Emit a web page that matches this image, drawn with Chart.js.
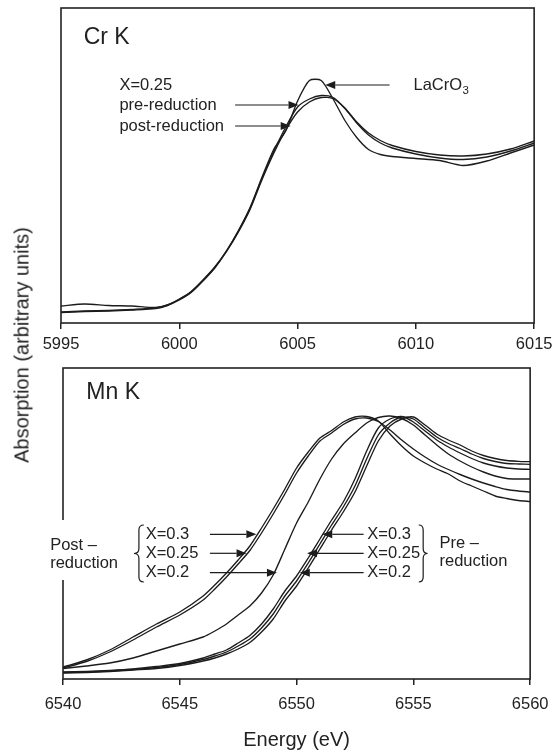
<!DOCTYPE html>
<html>
<head>
<meta charset="utf-8">
<script src="https://cdn.jsdelivr.net/npm/chart.js@4.4.1/dist/chart.umd.min.js"></script>
<style>
  body { margin: 0; background: #fff; }
  #wrap { position: relative; width: 558px; height: 752px; overflow: hidden; font-family: "Liberation Sans", Arial, sans-serif; }
  canvas { position: absolute; left: 0; }
  #crChart { top: 0; }
  #mnChart { top: 365px; }
  #yLabel { position: absolute; left: 22px; top: 345px; transform: translate(-50%, -50%) rotate(-90deg); font-size: 20px; color: #222; white-space: nowrap; }
</style>
</head>
<body>
<div id="wrap">
  <canvas id="crChart" width="558" height="365"></canvas>
  <canvas id="mnChart" width="558" height="387"></canvas>
  <div id="yLabel">Absorption (arbitrary units)</div>
</div>
<script>
// Cr K edge (top panel)
const crEnergy = [5995, 5996, 5997, 5998, 5999, 5999.5, 6000, 6000.5, 6001, 6001.5, 6002, 6002.5, 6003, 6003.5, 6004, 6004.5,
  6005, 6005.5, 6006, 6006.5, 6007, 6007.5, 6008, 6008.5, 6009, 6010, 6011, 6012, 6013, 6014, 6015];
const crLaCrO3 = [0.17, 0.19, 0.175, 0.17, 0.155, 0.18, 0.24, 0.315, 0.43, 0.56, 0.725, 0.925, 1.16, 1.46, 1.74, 1.92,
  2.22, 2.425, 2.425, 2.24, 2.025, 1.855, 1.735, 1.685, 1.665, 1.645, 1.625, 1.575, 1.62, 1.70, 1.78];
const crPre = [0.11, 0.12, 0.125, 0.135, 0.15, 0.18, 0.235, 0.31, 0.425, 0.555, 0.72, 0.92, 1.15, 1.45, 1.72, 1.96,
  2.16, 2.24, 2.275, 2.255, 2.15, 2.01, 1.90, 1.825, 1.775, 1.715, 1.68, 1.67, 1.69, 1.74, 1.82];
const crPost = [0.105, 0.115, 0.12, 0.13, 0.145, 0.175, 0.23, 0.305, 0.42, 0.55, 0.715, 0.91, 1.14, 1.435, 1.70, 1.93,
  2.11, 2.21, 2.255, 2.245, 2.145, 2.00, 1.88, 1.80, 1.75, 1.69, 1.65, 1.635, 1.66, 1.72, 1.80];
const crTicks = [5995, 6000, 6005, 6010, 6015];

// Mn K edge (bottom panel)
const mnEnergy = [6540, 6541, 6542, 6543, 6544, 6545, 6546, 6546.5, 6547, 6547.5, 6548, 6548.5, 6549, 6549.5, 6550, 6550.5,
  6551, 6551.5, 6552, 6552.5, 6553, 6553.5, 6554, 6554.5, 6555, 6555.5, 6556, 6556.5, 6557, 6557.5, 6558, 6558.5, 6559, 6559.5, 6560];
const mnPost03 = [0.12, 0.19, 0.29, 0.42, 0.55, 0.67, 0.83, 0.94, 1.06, 1.19, 1.33, 1.51, 1.70, 1.90, 2.11, 2.27,
  2.41, 2.485, 2.57, 2.62, 2.625, 2.58, 2.45, 2.33, 2.23, 2.16, 2.10, 2.05, 1.98, 1.93, 1.88, 1.83, 1.805, 1.785, 1.775];
const mnPost025 = [0.11, 0.175, 0.27, 0.39, 0.52, 0.64, 0.79, 0.90, 1.02, 1.15, 1.285, 1.46, 1.65, 1.85, 2.06, 2.23,
  2.38, 2.46, 2.545, 2.60, 2.61, 2.575, 2.49, 2.39, 2.30, 2.22, 2.15, 2.095, 2.045, 2.00, 1.96, 1.925, 1.895, 1.88, 1.87];
const mnPost02 = [0.105, 0.13, 0.16, 0.21, 0.28, 0.35, 0.42, 0.48, 0.55, 0.64, 0.73, 0.86, 1.04, 1.30, 1.56, 1.77,
  2.00, 2.20, 2.35, 2.46, 2.56, 2.615, 2.63, 2.605, 2.54, 2.44, 2.34, 2.25, 2.18, 2.12, 2.07, 2.03, 2.005, 2.00, 2.00];
const mnPre03 = [0.07, 0.075, 0.085, 0.10, 0.125, 0.155, 0.21, 0.25, 0.29, 0.36, 0.435, 0.55, 0.70, 0.88, 1.03, 1.21,
  1.40, 1.59, 1.77, 2.00, 2.28, 2.51, 2.60, 2.625, 2.57, 2.48, 2.39, 2.32, 2.26, 2.205, 2.16, 2.13, 2.11, 2.10, 2.097];
const mnPre025 = [0.065, 0.07, 0.08, 0.095, 0.115, 0.145, 0.195, 0.23, 0.27, 0.33, 0.40, 0.51, 0.65, 0.83, 0.98, 1.16,
  1.35, 1.54, 1.72, 1.93, 2.20, 2.44, 2.56, 2.62, 2.60, 2.51, 2.42, 2.355, 2.305, 2.25, 2.205, 2.175, 2.155, 2.15, 2.147];
const mnPre02 = [0.06, 0.065, 0.075, 0.09, 0.105, 0.135, 0.18, 0.21, 0.25, 0.30, 0.365, 0.47, 0.60, 0.78, 0.93, 1.11,
  1.30, 1.49, 1.67, 1.87, 2.13, 2.38, 2.53, 2.60, 2.62, 2.54, 2.45, 2.39, 2.34, 2.28, 2.235, 2.205, 2.185, 2.177, 2.173];
const mnTicks = [6540, 6545, 6550, 6555, 6560];

const FONT = '"Liberation Sans", Arial, sans-serif';
const INK = '#1c1c1c';
Chart.defaults.font.family = FONT;
Chart.defaults.color = '#222';

function pts(xs, ys) {
  return xs.map((x, i) => ({ x: x, y: ys[i] }));
}

function line(label, xs, ys) {
  return { label: label, data: pts(xs, ys), borderColor: INK, borderWidth: 1.35, pointRadius: 0, tension: 0.25, fill: false };
}

function arrow(ctx, x0, y0, x1, y1) {
  const dir = Math.sign(x1 - x0), L = 10, H = 4;
  ctx.beginPath();
  ctx.moveTo(x0, y0);
  ctx.lineTo(x1 - dir * L, y1);
  ctx.stroke();
  ctx.beginPath();
  ctx.moveTo(x1, y1);
  ctx.lineTo(x1 - dir * L, y1 - H);
  ctx.lineTo(x1 - dir * L, y1 + H);
  ctx.closePath();
  ctx.fill();
}

function brace(ctx, xt, xb, yt, yb) {
  const xm = (xt + xb) / 2, ym = (yt + yb) / 2, r = 5;
  ctx.beginPath();
  ctx.moveTo(xb, yt);
  ctx.quadraticCurveTo(xm, yt, xm, yt + r);
  ctx.lineTo(xm, ym - r);
  ctx.quadraticCurveTo(xm, ym, xt, ym);
  ctx.quadraticCurveTo(xm, ym, xm, ym + r);
  ctx.lineTo(xm, yb - r);
  ctx.quadraticCurveTo(xm, yb, xb, yb);
  ctx.stroke();
}

const framePlugin = {
  id: 'frame',
  afterDatasetsDraw(chart) {
    const { ctx, chartArea: a } = chart;
    ctx.save();
    ctx.strokeStyle = '#222';
    ctx.lineWidth = 1.6;
    ctx.strokeRect(a.left, a.top, a.right - a.left, a.bottom - a.top);
    ctx.restore();
  }
};

const notesPlugin = {
  id: 'notes',
  afterDraw(chart, args, opts) {
    const ctx = chart.ctx, sx = chart.scales.x, sy = chart.scales.y;
    const px = v => sx.getPixelForValue(v), py = v => sy.getPixelForValue(v);
    ctx.save();
    ctx.fillStyle = '#fff';
    (opts.masks || []).forEach(m => {
      ctx.fillRect(px(m.x0), py(m.y1), px(m.x1) - px(m.x0), py(m.y0) - py(m.y1));
    });
    ctx.fillStyle = '#222';
    ctx.textBaseline = 'middle';
    ctx.textAlign = 'left';
    (opts.texts || []).forEach(t => {
      ctx.font = (t.size || 16.5) + 'px ' + FONT;
      ctx.fillText(t.text, px(t.x), py(t.y));
      if (t.sub) {
        const w = ctx.measureText(t.text).width;
        ctx.font = '11.5px ' + FONT;
        ctx.fillText(t.sub, px(t.x) + w + 0.5, py(t.y) + 6);
      }
    });
    ctx.strokeStyle = INK;
    ctx.fillStyle = INK;
    ctx.lineWidth = 1.2;
    (opts.arrows || []).forEach(a => arrow(ctx, px(a.x0), py(a.y), px(a.x1), py(a.y)));
    (opts.braces || []).forEach(b => brace(ctx, px(b.tip), px(b.back), py(b.top), py(b.bottom)));
    ctx.restore();
  }
};

function makeChart(id, datasets, ticks, yMax, pad, axisH, tickPad, title, notes) {
  return new Chart(document.getElementById(id), {
    type: 'line',
    data: { datasets: datasets },
    plugins: [framePlugin, notesPlugin],
    options: {
      responsive: false,
      animation: false,
      devicePixelRatio: 1,
      layout: { padding: pad },
      plugins: { legend: { display: false }, tooltip: { enabled: false }, notes: notes },
      scales: {
        x: {
          type: 'linear',
          min: ticks[0],
          max: ticks[ticks.length - 1],
          afterBuildTicks: s => { s.ticks = ticks.map(v => ({ value: v })); },
          afterFit: s => { s.height = axisH; },
          ticks: { font: { size: 16.5 }, color: '#222', padding: tickPad, maxRotation: 0, callback: v => String(v) },
          grid: { drawOnChartArea: false, tickLength: 6, color: '#222', lineWidth: 1.5 },
          border: { display: false },
          title: title
        },
        y: { display: false, min: 0, max: yMax }
      }
    }
  });
}

makeChart('crChart',
  [line('LaCrO3', crEnergy, crLaCrO3), line('X=0.25 pre-reduction', crEnergy, crPre), line('X=0.25 post-reduction', crEnergy, crPost)],
  crTicks, 3.15, { left: 61, right: 19, top: 8, bottom: 0 }, 42, 5.5, { display: false },
  {
    texts: [
      { text: 'Cr K', x: 5995.96, y: 2.85, size: 23 },
      { text: 'X=0.25', x: 5997.47, y: 2.375 },
      { text: 'pre-reduction', x: 5997.47, y: 2.18 },
      { text: 'post-reduction', x: 5997.47, y: 1.97 },
      { text: 'LaCrO', sub: '3', x: 6009.9, y: 2.38 }
    ],
    arrows: [
      { x0: 6002.36, x1: 6005.04, y: 2.18 },
      { x0: 6002.36, x1: 6004.71, y: 1.97 },
      { x0: 6008.89, x1: 6006.17, y: 2.38 }
    ]
  });

makeChart('mnChart',
  [line('Post X=0.3', mnEnergy, mnPost03), line('Post X=0.25', mnEnergy, mnPost025), line('Post X=0.2', mnEnergy, mnPost02),
   line('Pre X=0.3', mnEnergy, mnPre03), line('Pre X=0.25', mnEnergy, mnPre025), line('Pre X=0.2', mnEnergy, mnPre02)],
  mnTicks, 3.11, { left: 63, right: 21, top: 3, bottom: 0 }, 73, 9.5,
  { display: true, text: 'Energy (eV)', font: { size: 20 }, color: '#222', padding: { top: 0, bottom: 0 } },
  {
    masks: [{ x0: 6539.3, x1: 6542.6, y0: 0.99, y1: 1.59 }],
    texts: [
      { text: 'Mn K', x: 6541.0, y: 2.86, size: 23 },
      { text: 'Post \u2013', x: 6539.45, y: 1.333 },
      { text: 'reduction', x: 6539.45, y: 1.16 },
      { text: 'X=0.3', x: 6543.54, y: 1.447 },
      { text: 'X=0.25', x: 6543.54, y: 1.257 },
      { text: 'X=0.2', x: 6543.54, y: 1.063 },
      { text: 'X=0.3', x: 6553.03, y: 1.447 },
      { text: 'X=0.25', x: 6553.03, y: 1.257 },
      { text: 'X=0.2', x: 6553.03, y: 1.063 },
      { text: 'Pre \u2013', x: 6556.12, y: 1.357 },
      { text: 'reduction', x: 6556.12, y: 1.173 }
    ],
    arrows: [
      { x0: 6546.29, x1: 6548.28, y: 1.447 },
      { x0: 6546.29, x1: 6547.86, y: 1.257 },
      { x0: 6546.29, x1: 6549.16, y: 1.063 },
      { x0: 6552.87, x1: 6551.10, y: 1.447 },
      { x0: 6552.87, x1: 6550.45, y: 1.257 },
      { x0: 6552.87, x1: 6550.14, y: 1.063 }
    ],
    braces: [
      { tip: 6543.04, back: 6543.46, top: 1.54, bottom: 0.97 },
      { tip: 6555.61, back: 6555.23, top: 1.54, bottom: 0.97 }
    ]
  });
</script>
</body>
</html>
